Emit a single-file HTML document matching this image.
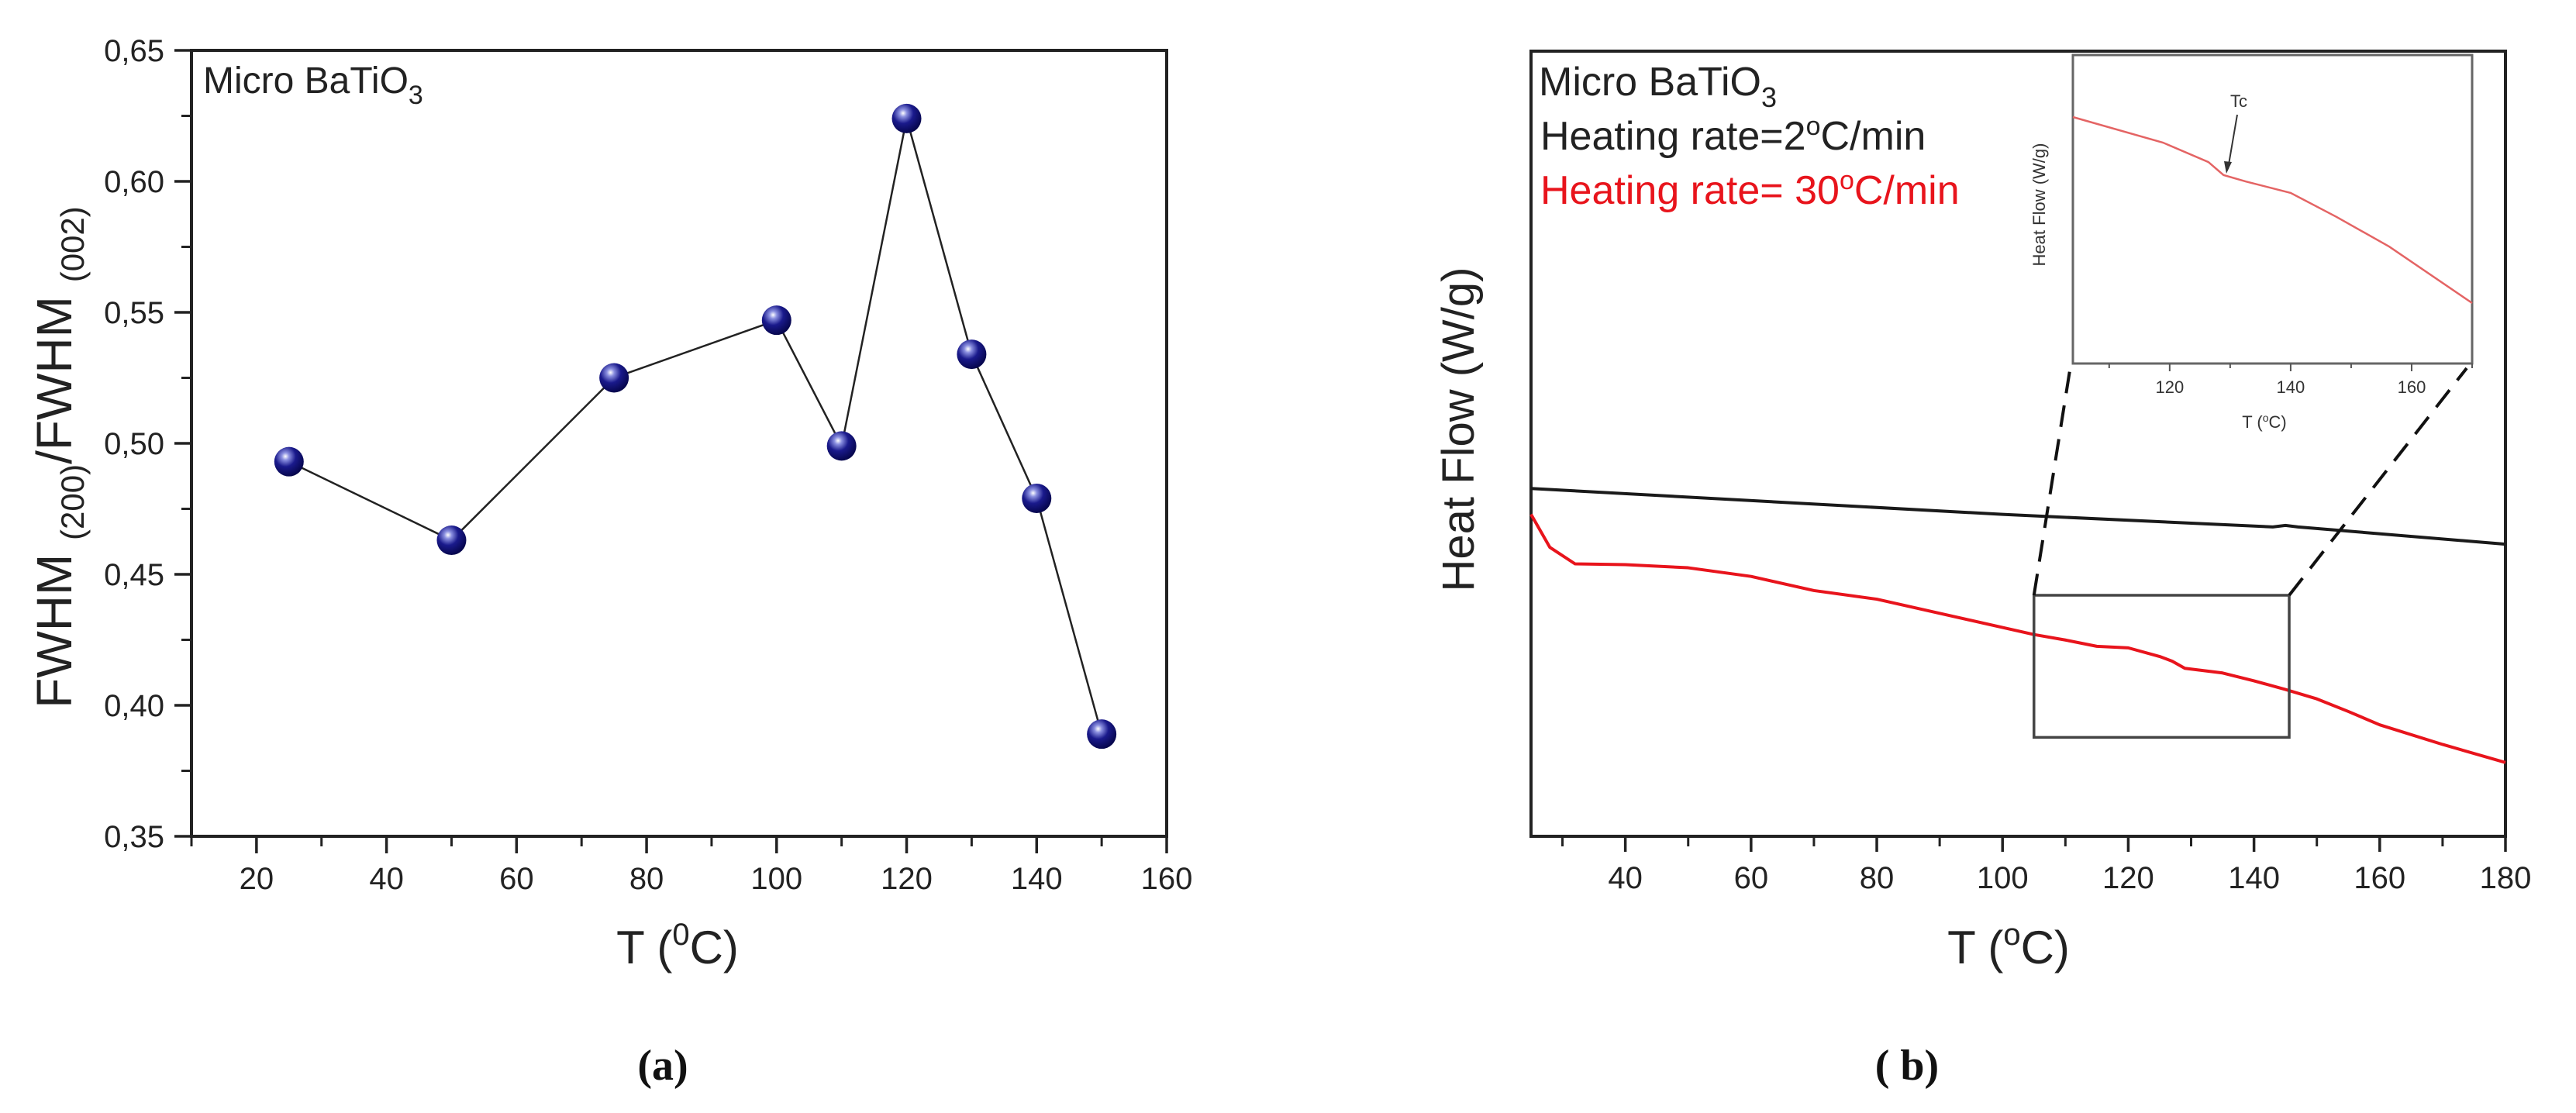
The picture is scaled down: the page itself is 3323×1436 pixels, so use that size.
<!DOCTYPE html>
<html><head><meta charset="utf-8"><style>
html,body{margin:0;padding:0;background:#fff;}
svg{display:block;font-family:"Liberation Sans",sans-serif;}
</style></head><body>
<svg id="fig" width="3323" height="1436" viewBox="0 0 3323 1436" xmlns="http://www.w3.org/2000/svg">
<defs>
<radialGradient id="ball" cx="0.38" cy="0.32" r="0.7">
<stop offset="0" stop-color="#ffffff"/><stop offset="0.18" stop-color="#8a8fe0"/><stop offset="0.5" stop-color="#1a1a8c"/><stop offset="1" stop-color="#05054a"/>
</radialGradient>
</defs>
<g id="chartA"></g>
<g id="chartB"></g>
</svg>
<script>
// ---------- Chart (a) data ----------
const aTemps = [25, 50, 75, 100, 110, 120, 130, 140, 150];
const aRatio = [0.493, 0.463, 0.525, 0.547, 0.499, 0.624, 0.534, 0.479, 0.389];
const aXTicks = [20, 40, 60, 80, 100, 120, 140, 160];
const aYTicks = [0.35, 0.40, 0.45, 0.50, 0.55, 0.60, 0.65];
const aYTickLabels = ["0,35", "0,40", "0,45", "0,50", "0,55", "0,60", "0,65"];
// ---------- Chart (b) data ----------
const bXTicks = [40, 60, 80, 100, 120, 140, 160, 180];
const blackT = [25, 100, 143, 145, 147, 180];
const blackHF = [0.443, 0.410, 0.394, 0.396, 0.394, 0.372];
const redT = [25, 28, 32, 40, 50, 60, 70, 80, 90, 100, 105, 110, 115, 120, 125, 127, 129, 135, 140, 145, 150, 155, 160, 170, 180];
const redHF = [0.410, 0.368, 0.347, 0.346, 0.342, 0.331, 0.313, 0.302, 0.284, 0.266, 0.257, 0.250, 0.242, 0.240, 0.229, 0.223, 0.214, 0.208, 0.198, 0.187, 0.175, 0.159, 0.142, 0.117, 0.094];
const zoomT = [105, 145.6];
const zoomHF = [0.307, 0.126];
const insetT = [104, 118.9, 126.4, 128.9, 132.6, 140, 147.6, 156.3, 170];
const insetHF = [0.799, 0.716, 0.653, 0.611, 0.590, 0.553, 0.475, 0.379, 0.196];
const insetXTicks = [120, 140, 160];

const NS = "http://www.w3.org/2000/svg";
function mk(parent, tag, attrs, text) {
  const e = document.createElementNS(NS, tag);
  for (const k in attrs) e.setAttribute(k, attrs[k]);
  if (text !== undefined) e.textContent = text;
  parent.appendChild(e);
  return e;
}
function lin(d0, d1, r0, r1) { return v => r0 + (v - d0) * (r1 - r0) / (d1 - d0); }

// ================= Chart A =================
const A = document.getElementById('chartA');
const ax = lin(10, 160, 247, 1505);
const ay = lin(0.35, 0.65, 1079, 65);
let frameA = mk(A, 'rect', {x: 247, y: 65, width: 1258, height: 1014, fill: 'none', stroke: '#222', 'stroke-width': 4});


aYTicks.forEach((v, i) => {
  const y = ay(v);
  const t = mk(A, 'line', {x1: 225, y1: y, x2: 247, y2: y, stroke: '#222', 'stroke-width': 3.5});
  
  
  const l = mk(A, 'text', {x: 212, y: y + 14, 'font-size': 40, 'text-anchor': 'end', fill: '#222'}, aYTickLabels[i]);
  
  
  if (i < aYTicks.length - 1) {
    const ym = ay(v + 0.025);
    const m = mk(A, 'line', {x1: 234, y1: ym, x2: 247, y2: ym, stroke: '#222', 'stroke-width': 3});
    
    
  }
});
aXTicks.forEach(v => {
  const x = ax(v);
  const t = mk(A, 'line', {x1: x, y1: 1079, x2: x, y2: 1101, stroke: '#222', 'stroke-width': 3.5});
  
  
  const l = mk(A, 'text', {x: x, y: 1147, 'font-size': 40, 'text-anchor': 'middle', fill: '#222'}, String(v));
  
  
  const xm = ax(v + 10);
  if (v + 10 < 160) {
    const m = mk(A, 'line', {x1: xm, y1: 1079, x2: xm, y2: 1092, stroke: '#222', 'stroke-width': 3});
    
    
  }
});
const mA = mk(A, 'line', {x1: ax(10), y1: 1079, x2: ax(10), y2: 1092, stroke: '#222', 'stroke-width': 3});


const pts = aTemps.map((t, i) => ax(t) + ',' + ay(aRatio[i])).join(' ');
const lineA = mk(A, 'polyline', {points: pts, fill: 'none', stroke: '#222', 'stroke-width': 2.5});


aTemps.forEach((t, i) => {
  const c = mk(A, 'circle', {cx: ax(t), cy: ay(aRatio[i]), r: 19, fill: 'url(#ball)'});
  
  
});
const tA = mk(A, 'text', {x: 262, y: 120, 'font-size': 48, fill: '#222'});


tA.innerHTML = 'Micro BaTiO<tspan dy="14" font-size="34">3</tspan>';
const xtA = mk(A, 'text', {x: 874, y: 1243, 'font-size': 60, 'text-anchor': 'middle', fill: '#222'});


xtA.innerHTML = 'T (<tspan dy="-24" font-size="40">0</tspan><tspan dy="24">C)</tspan>';
const ytA = mk(A, 'text', {x: 0, y: 0, 'font-size': 64, 'text-anchor': 'middle', fill: '#222', transform: 'translate(92,590) rotate(-90)'});


ytA.innerHTML = 'FWHM <tspan dy="16" font-size="42">(200)</tspan><tspan dy="-16">/FWHM </tspan><tspan dy="16" font-size="42">(002)</tspan>';
const capA = mk(A, 'text', {x: 855, y: 1393, 'font-size': 56, 'font-weight': 'bold', 'text-anchor': 'middle', fill: '#111', 'font-family': '"Liberation Serif",serif'}, '(a)');



// ================= Chart B =================
const B = document.getElementById('chartB');
const bx = lin(25, 180, 1975, 3232);
const by = lin(0, 1, 1079, 66);
const frameB = mk(B, 'rect', {x: 1975, y: 66, width: 1257, height: 1013, fill: 'none', stroke: '#222', 'stroke-width': 4});


bXTicks.forEach(v => {
  const x = bx(v);
  const t = mk(B, 'line', {x1: x, y1: 1079, x2: x, y2: 1099, stroke: '#222', 'stroke-width': 3.5});
  
  
  const l = mk(B, 'text', {x: x, y: 1146, 'font-size': 40, 'text-anchor': 'middle', fill: '#222'}, String(v));
  
  
  const xm = bx(v - 10);
  const m = mk(B, 'line', {x1: xm, y1: 1079, x2: xm, y2: 1092, stroke: '#222', 'stroke-width': 3});
  
  
});
const blk = mk(B, 'polyline', {points: blackT.map((t, i) => bx(t) + ',' + by(blackHF[i])).join(' '), fill: 'none', stroke: '#1a1a1a', 'stroke-width': 4});


const red = mk(B, 'polyline', {points: redT.map((t, i) => bx(t) + ',' + by(redHF[i])).join(' '), fill: 'none', stroke: '#e8141c', 'stroke-width': 4, 'stroke-linejoin': 'round'});


const zx0 = bx(zoomT[0]), zx1 = bx(zoomT[1]), zy0 = by(zoomHF[0]), zy1 = by(zoomHF[1]);
const zr = mk(B, 'rect', {x: zx0, y: zy0, width: zx1 - zx0, height: zy1 - zy0, fill: 'none', stroke: '#444', 'stroke-width': 3.5});


// inset
const ix = lin(104, 170, 2674, 3189);
const iy = lin(0, 1, 469, 71);
const d1 = mk(B, 'line', {x1: zx0, y1: zy0, x2: 2670, y2: 478, stroke: '#111', 'stroke-width': 4, 'stroke-dasharray': '28,16'});


const d2 = mk(B, 'line', {x1: zx1, y1: zy0, x2: 3182, y2: 475, stroke: '#111', 'stroke-width': 4, 'stroke-dasharray': '28,16'});


const ifr = mk(B, 'rect', {x: 2674, y: 71, width: 515, height: 398, fill: '#fff', stroke: '#666', 'stroke-width': 3});


for (let v = 110; v <= 170; v += 10) {
  const major = insetXTicks.includes(v);
  const t = mk(B, 'line', {x1: ix(v), y1: 469, x2: ix(v), y2: major ? 479 : 475, stroke: '#555', 'stroke-width': 2});
  
  
}
insetXTicks.forEach(v => {
  const l = mk(B, 'text', {x: ix(v), y: 507, 'font-size': 22, 'text-anchor': 'middle', fill: '#333'}, String(v));
  
  
});
const ic = mk(B, 'polyline', {points: insetT.map((t, i) => ix(t) + ',' + iy(insetHF[i])).join(' '), fill: 'none', stroke: '#e46464', 'stroke-width': 2.5});


const ixt = mk(B, 'text', {x: 2921, y: 552, 'font-size': 22, 'text-anchor': 'middle', fill: '#333'});


ixt.innerHTML = 'T (<tspan dy="-8" font-size="14">o</tspan><tspan dy="8">C)</tspan>';
const iyt = mk(B, 'text', {x: 0, y: 0, 'font-size': 22, 'text-anchor': 'middle', fill: '#333', transform: 'translate(2638,264) rotate(-90)'}, 'Heat Flow (W/g)');


const tc = mk(B, 'text', {x: 2888, y: 138, 'font-size': 22, 'text-anchor': 'middle', fill: '#333'}, 'Tc');


const ar = mk(B, 'line', {x1: 2886, y1: 148, x2: 2874, y2: 218, stroke: '#333', 'stroke-width': 2});


const ah = mk(B, 'polygon', {points: '2872,224 2869,208 2879,209', fill: '#333'});


// legend texts
const l1 = mk(B, 'text', {x: 1985, y: 123, 'font-size': 52, fill: '#222'});


l1.innerHTML = 'Micro BaTiO<tspan dy="15" font-size="36">3</tspan>';
const l2 = mk(B, 'text', {x: 1987, y: 193, 'font-size': 52, fill: '#222'});


l2.innerHTML = 'Heating rate=2<tspan dy="-19" font-size="34">o</tspan><tspan dy="19">C/min</tspan>';
const l3 = mk(B, 'text', {x: 1987, y: 263, 'font-size': 52, fill: '#e8141c'});


l3.innerHTML = 'Heating rate= 30<tspan dy="-19" font-size="34">o</tspan><tspan dy="19">C/min</tspan>';
const xtB = mk(B, 'text', {x: 2591, y: 1243, 'font-size': 60, 'text-anchor': 'middle', fill: '#222'});


xtB.innerHTML = 'T (<tspan dy="-24" font-size="40">o</tspan><tspan dy="24">C)</tspan>';
const ytB = mk(B, 'text', {x: 0, y: 0, 'font-size': 58, 'text-anchor': 'middle', fill: '#222', transform: 'translate(1901,554) rotate(-90)'}, 'Heat Flow (W/g)');


const capB = mk(B, 'text', {x: 2460, y: 1393, 'font-size': 56, 'font-weight': 'bold', 'text-anchor': 'middle', fill: '#111', 'font-family': '"Liberation Serif",serif'}, '( b)');


</script>
</body></html>
